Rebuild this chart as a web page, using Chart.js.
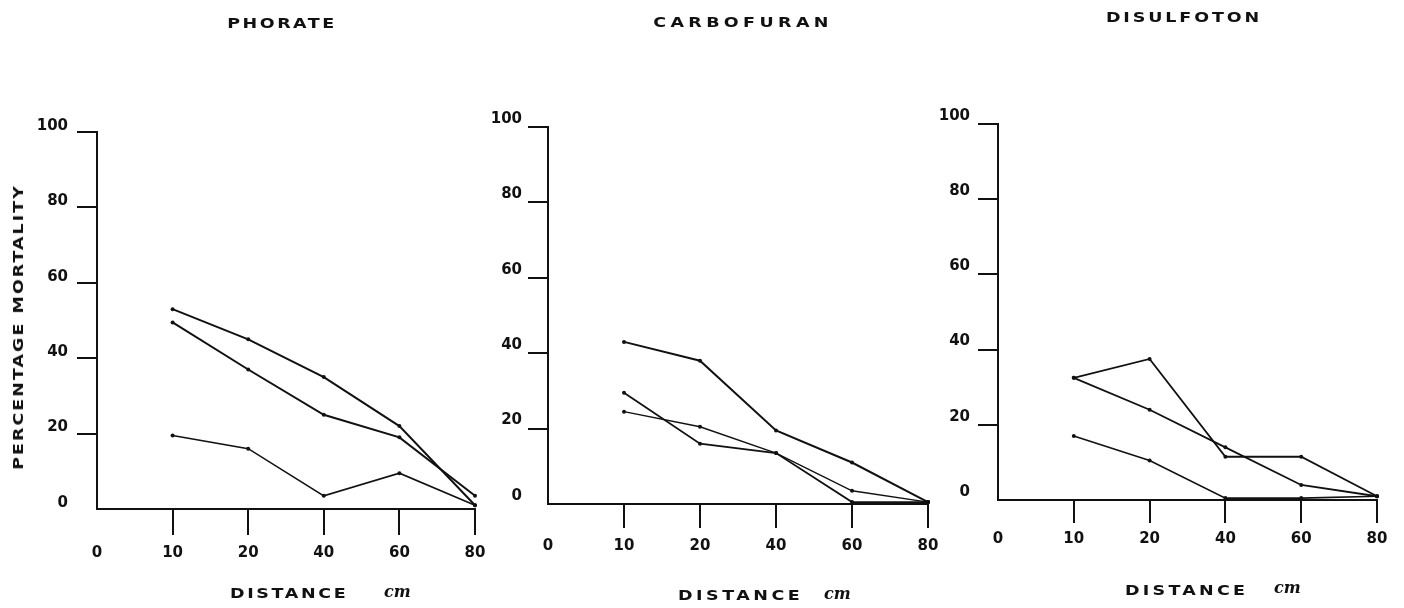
<!DOCTYPE html>
<html>
<head>
<meta charset="utf-8">
<script src="https://cdn.jsdelivr.net/npm/chart.js@4.4.1/dist/chart.umd.min.js"></script>
<style>
  html, body { margin: 0; padding: 0; background: #fff; }
  #page { position: relative; width: 1404px; height: 608px; overflow: hidden; background: #fff; }
  canvas { position: absolute; top: 0; }
  .lbl { position: absolute; font-family: "DejaVu Sans", sans-serif; font-weight: bold;
         color: #111; white-space: nowrap; line-height: 1; }
  .title { font-size: 14px; transform: translate(-50%, -50%) scaleX(1.25); }
  .xt { font-size: 14px; transform-origin: 0 50%; transform: translateY(-50%) scaleX(1.25); }
  .cm { font-size: 16px; font-style: italic; font-family: "DejaVu Serif", serif; transform: translateY(-50%); }
  .yt { font-size: 14px; letter-spacing: 1.6px; transform: translate(-50%, -50%) rotate(-90deg) scaleX(1.25); }
</style>
</head>
<body>
<div id="page">
  <canvas id="c1" width="500" height="608" style="left:0px"></canvas>
  <canvas id="c2" width="465" height="608" style="left:490px"></canvas>
  <canvas id="c3" width="464" height="608" style="left:940px"></canvas>

  <div class="lbl title" style="left:282px; top:23px; letter-spacing:2px;">PHORATE</div>
  <div class="lbl title" style="left:743px; top:22px; letter-spacing:3.5px;">CARBOFURAN</div>
  <div class="lbl title" style="left:1184px; top:17px; letter-spacing:2.3px;">DISULFOTON</div>

  <div class="lbl yt" style="left:18px; top:327px;">PERCENTAGE MORTALITY</div>

  <div class="lbl xt" style="left:230px; top:593px; letter-spacing:2.1px;">DISTANCE</div>
  <div class="lbl cm" style="left:384px; top:592px;">cm</div>
  <div class="lbl xt" style="left:678px; top:595px; letter-spacing:2.8px;">DISTANCE</div>
  <div class="lbl cm" style="left:824px; top:594px;">cm</div>
  <div class="lbl xt" style="left:1125px; top:590px; letter-spacing:2.6px;">DISTANCE</div>
  <div class="lbl cm" style="left:1274px; top:588px;">cm</div>
</div>

<script>
// Distance categories (cm); the 0 position sits on the vertical axis
const distances = ['0', '10', '20', '40', '60', '80'];
const yTicks = [0, 20, 40, 60, 80, 100];

// Percentage mortality, three runs per insecticide (no reading at 0 cm)
const phorateA = [null, 53, 45, 35, 22, 1];
const phorateB = [null, 49.5, 37, 25, 19, 3.5];
const phorateC = [null, 19.5, 16, 3.5, 9.5, 1];

const carbofuranA = [null, 43, 38, 19.5, 11, 0.5];
const carbofuranB = [null, 29.5, 16, 13.5, 0.5, 0.5];
const carbofuranC = [null, 24.5, 20.5, 13.5, 3.5, 0.5];

const disulfotonA = [null, 32.5, 37.5, 11.5, 11.5, 1];
const disulfotonB = [null, 32.5, 24, 14, 4, 1];
const disulfotonC = [null, 17, 10.5, 0.5, 0.5, 1];

const INK = '#111';
const FONT = { family: 'DejaVu Sans', weight: 'bold', size: 15 };

function hideFirst(ctx) { return ctx.index === 0 ? 'rgba(0,0,0,0)' : INK; }

function series(values, width) {
  return {
    data: values,
    borderColor: INK,
    backgroundColor: INK,
    borderWidth: width,
    pointRadius: 2,
    pointBackgroundColor: INK,
    pointBorderWidth: 0,
    tension: 0,
    fill: false
  };
}

function panel(id, cfg) {
  const el = document.getElementById(id);
  return new Chart(el, {
    type: 'line',
    data: {
      labels: distances,
      datasets: cfg.sets
    },
    options: {
      responsive: false,
      animation: false,
      devicePixelRatio: 1,
      layout: { padding: { left: 0, top: cfg.top, right: cfg.right, bottom: 608 - cfg.bottom - 60 } },
      plugins: { legend: { display: false }, tooltip: { enabled: false }, title: { display: false } },
      scales: {
        x: {
          type: 'category',
          offset: false,
          afterFit: s => { s.height = 60; },
          grid: { drawOnChartArea: false, drawTicks: true, tickLength: cfg.xTick, color: hideFirst, lineWidth: 2 },
          border: { display: true, color: INK, width: 2 },
          ticks: { color: INK, font: FONT, padding: cfg.xPad, autoSkip: false, maxRotation: 0 }
        },
        y: {
          min: 0, max: 100,
          afterFit: s => { s.width = cfg.left; },
          afterBuildTicks: s => { s.ticks = yTicks.map(v => ({ value: v })); },
          grid: { drawOnChartArea: false, drawTicks: true, tickLength: 20, color: hideFirst, lineWidth: 2 },
          border: { display: true, color: INK, width: 2 },
          ticks: { color: INK, font: FONT, padding: cfg.yPad, labelOffset: cfg.yOff }
        }
      }
    }
  });
}

// canvas c1 spans x 0..500, c2 490..955, c3 940..1404
panel('c1', {
  left: 97, top: 132, bottom: 509, right: 500 - 475,
  xTick: 26, xPad: 9, yPad: 9, yOff: -6,
  sets: [series(phorateA, 2), series(phorateB, 2), series(phorateC, 1.6)]
});

panel('c2', {
  left: 58, top: 127, bottom: 504, right: 465 - 438,
  xTick: 24, xPad: 9, yPad: 6, yOff: -8,
  sets: [series(carbofuranA, 2), series(carbofuranB, 1.8), series(carbofuranC, 1.4)]
});

panel('c3', {
  left: 58, top: 124, bottom: 500, right: 464 - 437,
  xTick: 23, xPad: 7, yPad: 8, yOff: -8,
  sets: [series(disulfotonA, 1.8), series(disulfotonB, 1.8), series(disulfotonC, 1.6)]
});
</script>
</body>
</html>
